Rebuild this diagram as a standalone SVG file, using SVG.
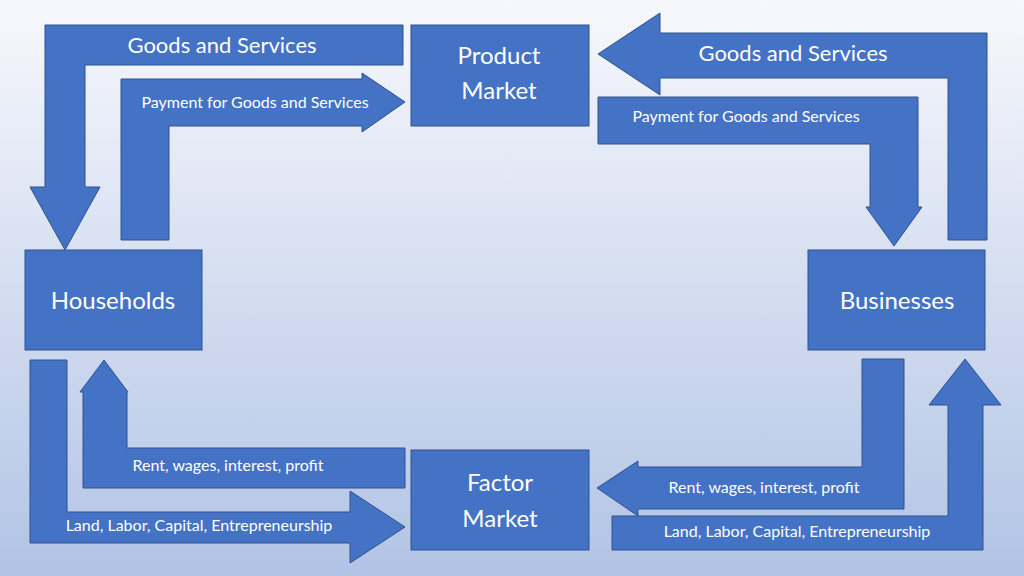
<svg xmlns="http://www.w3.org/2000/svg" width="1024" height="576" viewBox="0 0 1024 576">
<defs>
<linearGradient id="bg" x1="0" y1="0" x2="0" y2="1"><stop offset="0" stop-color="#f7f8fc"/><stop offset="1" stop-color="#b1c3e5"/></linearGradient>
<style>
.s{fill:#4472C4;stroke:#2F528F;stroke-width:1}
text{fill:#fff;font-family:Lato,"Open Sans",sans-serif;text-anchor:middle}
.l{font-size:24px}.m{font-size:22px}.t{font-size:16px}
</style>
</defs>
<rect width="1024" height="576" fill="url(#bg)"/>
<g id="connectors">
<polygon class="s" points="403,25 45,25 45,187 30,187 65,250 100,187 85,187 85,65 403,65"/>
<text class="m" x="222" y="53">Goods and Services</text>
<polygon class="s" points="121,240 121,79 362,79 362,73 405,102 362,132 362,126 169,126 169,240"/>
<text class="t" x="255" y="108">Payment for Goods and Services</text>
<polygon class="s" points="987,240 987,33 660,33 660,13 598,54 660,95 660,78 948,78 948,240"/>
<text class="m" x="793" y="61">Goods and Services</text>
<polygon class="s" points="598,97 918,97 918,207 922,207 894,246 866,207 870,207 870,144 598,144"/>
<text class="t" x="746" y="122">Payment for Goods and Services</text>
<polygon class="s" points="405,448 127,448 127,392 128,392 104,360 80,392 83,392 83,488 405,488"/>
<text class="t" x="228" y="471">Rent, wages, interest, profit</text>
<polygon class="s" points="30,360 67,360 67,512 350,512 350,491 405,527 350,563 350,543 30,543"/>
<text class="t" x="199" y="531">Land, Labor, Capital, Entrepreneurship</text>
<polygon class="s" points="862,359 904,359 904,509 638,509 638,516 597,488 638,461 638,467 862,467"/>
<text class="t" x="764" y="493">Rent, wages, interest, profit</text>
<polygon class="s" points="612,516 948,516 948,405 929,405 965,359 1001,405 983,405 983,550 612,550"/>
<text class="t" x="797" y="537">Land, Labor, Capital, Entrepreneurship</text>
</g>
<g id="product"><rect class="s" x="411" y="25" width="178" height="101"/><text class="l" x="499" y="64">Product</text><text class="l" x="499" y="99">Market</text></g>
<g id="households"><rect class="s" x="25" y="250" width="177" height="100"/><text class="l" x="113" y="309">Households</text></g>
<g id="businesses"><rect class="s" x="808" y="250" width="177" height="100"/><text class="l" x="897" y="309">Businesses</text></g>
<g id="factor"><rect class="s" x="411" y="450" width="178" height="100"/><text class="l" x="500" y="491">Factor</text><text class="l" x="500" y="527">Market</text></g>
</svg>
